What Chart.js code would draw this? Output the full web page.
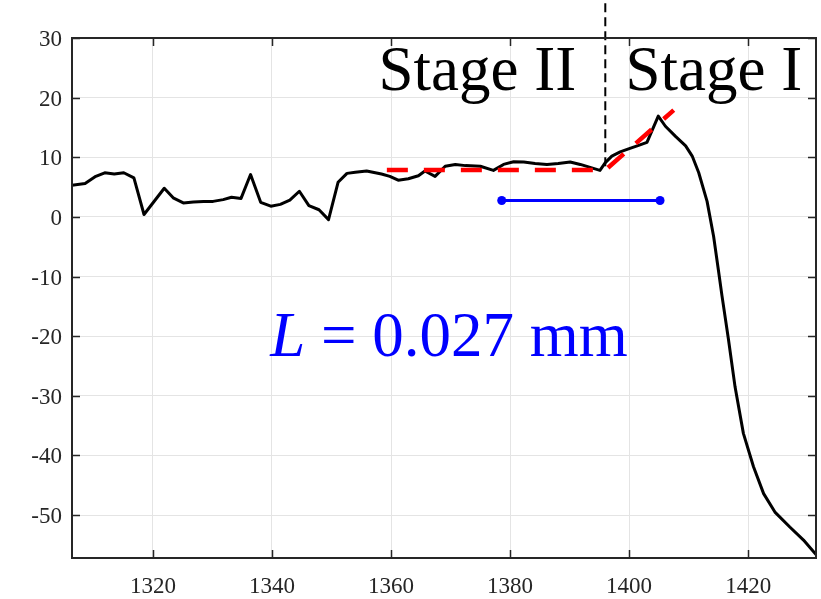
<!DOCTYPE html>
<html>
<head>
<meta charset="utf-8">
<title>Stage profile</title>
<script src="https://cdn.jsdelivr.net/npm/chart.js@4.4.1/dist/chart.umd.min.js"></script>
<style>
  html, body { margin: 0; padding: 0; background: #fff; }
  #chart { display: block; }
</style>
</head>
<body>
<canvas id="chart" width="821" height="599"></canvas>
<script>
// ===== DATA =====
// measured profile (black line)
const profileX = [1306.4, 1308.6, 1310.4, 1311.9, 1313.5, 1315.1, 1316.8, 1318.5, 1321.9, 1323.4,
  1325.1, 1326.8, 1328.5, 1330.1, 1331.8, 1333.2, 1334.8, 1336.4, 1338.1, 1339.8,
  1341.4, 1343.0, 1344.6, 1346.2, 1347.9, 1349.5, 1351.1, 1352.6, 1354.0, 1355.9,
  1358.4, 1359.8, 1361.2, 1362.9, 1364.6, 1365.7, 1367.4, 1369.1, 1370.8, 1372.5,
  1375.0, 1377.2, 1378.9, 1380.6, 1382.3, 1384.2, 1386.2, 1388.1, 1390.1, 1391.8,
  1395.1, 1396.0, 1397.1, 1398.5, 1399.9, 1401.6, 1403.0, 1404.9, 1406.1, 1407.8,
  1409.5, 1410.6, 1411.7, 1413.1, 1414.2, 1415.0, 1415.6, 1416.7, 1417.8, 1419.2,
  1420.9, 1422.6, 1424.5, 1427.0, 1429.3, 1431.4];
const profileY = [5.3, 5.6, 6.8, 7.4, 7.2, 7.4, 6.55, 0.4, 4.8, 3.2,
  2.35, 2.5, 2.6, 2.6, 2.9, 3.3, 3.1, 7.1, 2.45, 1.8,
  2.1, 2.8, 4.3, 1.9, 1.2, -0.45, 5.8, 7.3, 7.5, 7.7,
  7.2, 6.8, 6.15, 6.4, 6.9, 7.7, 6.8, 8.5, 8.8, 8.6,
  8.5, 7.8, 8.8, 9.25, 9.2, 8.95, 8.8, 8.95, 9.2, 8.8,
  7.8, 9.1, 10.2, 10.9, 11.4, 12.0, 12.5, 16.9, 15.2, 13.5,
  11.9, 10.2, 7.4, 2.6, -3.3, -8.9, -13.2, -20.6, -28.5, -36.3,
  -41.9, -46.4, -49.5, -52.0, -54.2, -56.6];

// fitted stage lines (red dashed)
const fitX = [1359.3, 1396.0, 1407.5];
const fitY = [7.85, 7.85, 17.9];

// stage boundary (black dashed)
const boundaryX = [1396.0, 1396.0];
const boundaryY = [8.5, 36.6];

// length marker (blue)
const lengthX = [1378.6, 1405.2];
const lengthY = [2.75, 2.75];

// axes
const xTicks = [1320, 1340, 1360, 1380, 1400, 1420];
const yTicks = [-50, -40, -30, -20, -10, 0, 10, 20, 30];
const xRange = [1306.4, 1431.4];
const yRange = [-57.2, 30];

const SERIF = "'Liberation Serif', 'Times New Roman', serif";
const AXIS_COLOR = '#262626';

function toPoints(xs, ys) {
    return xs.map((x, i) => ({ x: x, y: ys[i] }));
}

// box with inward ticks, like the matlab axes
const boxPlugin = {
    id: 'boxPlugin',
    afterDatasetsDraw(chart) {
        const { ctx, chartArea: a, scales } = chart;
        const len = 8;
        ctx.save();
        ctx.strokeStyle = AXIS_COLOR;
        ctx.lineWidth = 1.5;
        ctx.beginPath();
        xTicks.forEach(v => {
            const px = Math.round(scales.x.getPixelForValue(v)) + 0.5;
            ctx.moveTo(px, a.bottom); ctx.lineTo(px, a.bottom - len);
            ctx.moveTo(px, a.top); ctx.lineTo(px, a.top + len);
        });
        yTicks.forEach(v => {
            const py = Math.round(scales.y.getPixelForValue(v)) + 0.5;
            ctx.moveTo(a.left, py); ctx.lineTo(a.left + len, py);
            ctx.moveTo(a.right, py); ctx.lineTo(a.right - len, py);
        });
        ctx.stroke();
        ctx.lineWidth = 2;
        ctx.strokeRect(a.left, a.top, a.right - a.left, a.bottom - a.top);
        ctx.restore();
    }
};

// text labels anchored in data coordinates
const labelPlugin = {
    id: 'labelPlugin',
    afterDraw(chart) {
        const { ctx, scales } = chart;
        const x = scales.x, y = scales.y;
        ctx.save();
        ctx.textBaseline = 'alphabetic';
        ctx.textAlign = 'left';
        ctx.fillStyle = '#000';
        ctx.font = '63px ' + SERIF;
        ctx.fillText('Stage II', x.getPixelForValue(1357.9), y.getPixelForValue(21.3));
        ctx.fillText('Stage I', x.getPixelForValue(1399.4), y.getPixelForValue(21.3));

        ctx.fillStyle = '#0000ff';
        const lx = x.getPixelForValue(1339.7);
        const ly = y.getPixelForValue(-23.3);
        ctx.font = 'italic 63px ' + SERIF;
        ctx.fillText('L', lx, ly);
        const w = ctx.measureText('L').width;
        ctx.font = '63px ' + SERIF;
        ctx.fillText(' = 0.027 mm', lx + w, ly);
        ctx.restore();
    }
};

const ctx = document.getElementById('chart');

new Chart(ctx, {
    type: 'line',
    data: {
        datasets: [
            {
                data: toPoints(lengthX, lengthY),
                borderColor: '#0000ff',
                backgroundColor: '#0000ff',
                borderWidth: 3,
                pointRadius: 4.5,
                pointBorderWidth: 0,
                order: 1
            },
            {
                data: toPoints(fitX, fitY),
                borderColor: '#ff0000',
                borderWidth: 4.5,
                borderDash: [21, 16],
                pointRadius: 0,
                borderCapStyle: 'butt',
                order: 2
            },
            {
                data: toPoints(boundaryX, boundaryY),
                borderColor: '#000',
                borderWidth: 2,
                borderDash: [9, 5],
                pointRadius: 0,
                clip: false,
                order: 3
            },
            {
                data: toPoints(profileX, profileY),
                borderColor: '#000',
                borderWidth: 3,
                pointRadius: 0,
                borderJoinStyle: 'round',
                order: 4
            }
        ]
    },
    options: {
        responsive: false,
        animation: false,
        layout: { padding: { top: 38, right: 5, left: 0, bottom: 0 } },
        plugins: {
            legend: { display: false },
            tooltip: { enabled: false }
        },
        scales: {
            x: {
                type: 'linear',
                min: xRange[0],
                max: xRange[1],
                afterBuildTicks: s => { s.ticks = xTicks.map(v => ({ value: v })); },
                afterFit: s => { s.height = 41; },
                grid: { color: '#e4e4e4', lineWidth: 1, drawTicks: false },
                border: { display: false },
                ticks: {
                    padding: 15,
                    color: AXIS_COLOR,
                    font: { family: SERIF, size: 23 },
                    callback: v => String(v)
                }
            },
            y: {
                type: 'linear',
                min: yRange[0],
                max: yRange[1],
                afterBuildTicks: s => { s.ticks = yTicks.map(v => ({ value: v })); },
                afterFit: s => { s.width = 72; },
                grid: { color: '#e4e4e4', lineWidth: 1, drawTicks: false },
                border: { display: false },
                ticks: {
                    padding: 10,
                    labelOffset: 2,
                    color: AXIS_COLOR,
                    font: { family: SERIF, size: 23 },
                    callback: v => String(v)
                }
            }
        }
    },
    plugins: [boxPlugin, labelPlugin]
});
</script>
</body>
</html>
